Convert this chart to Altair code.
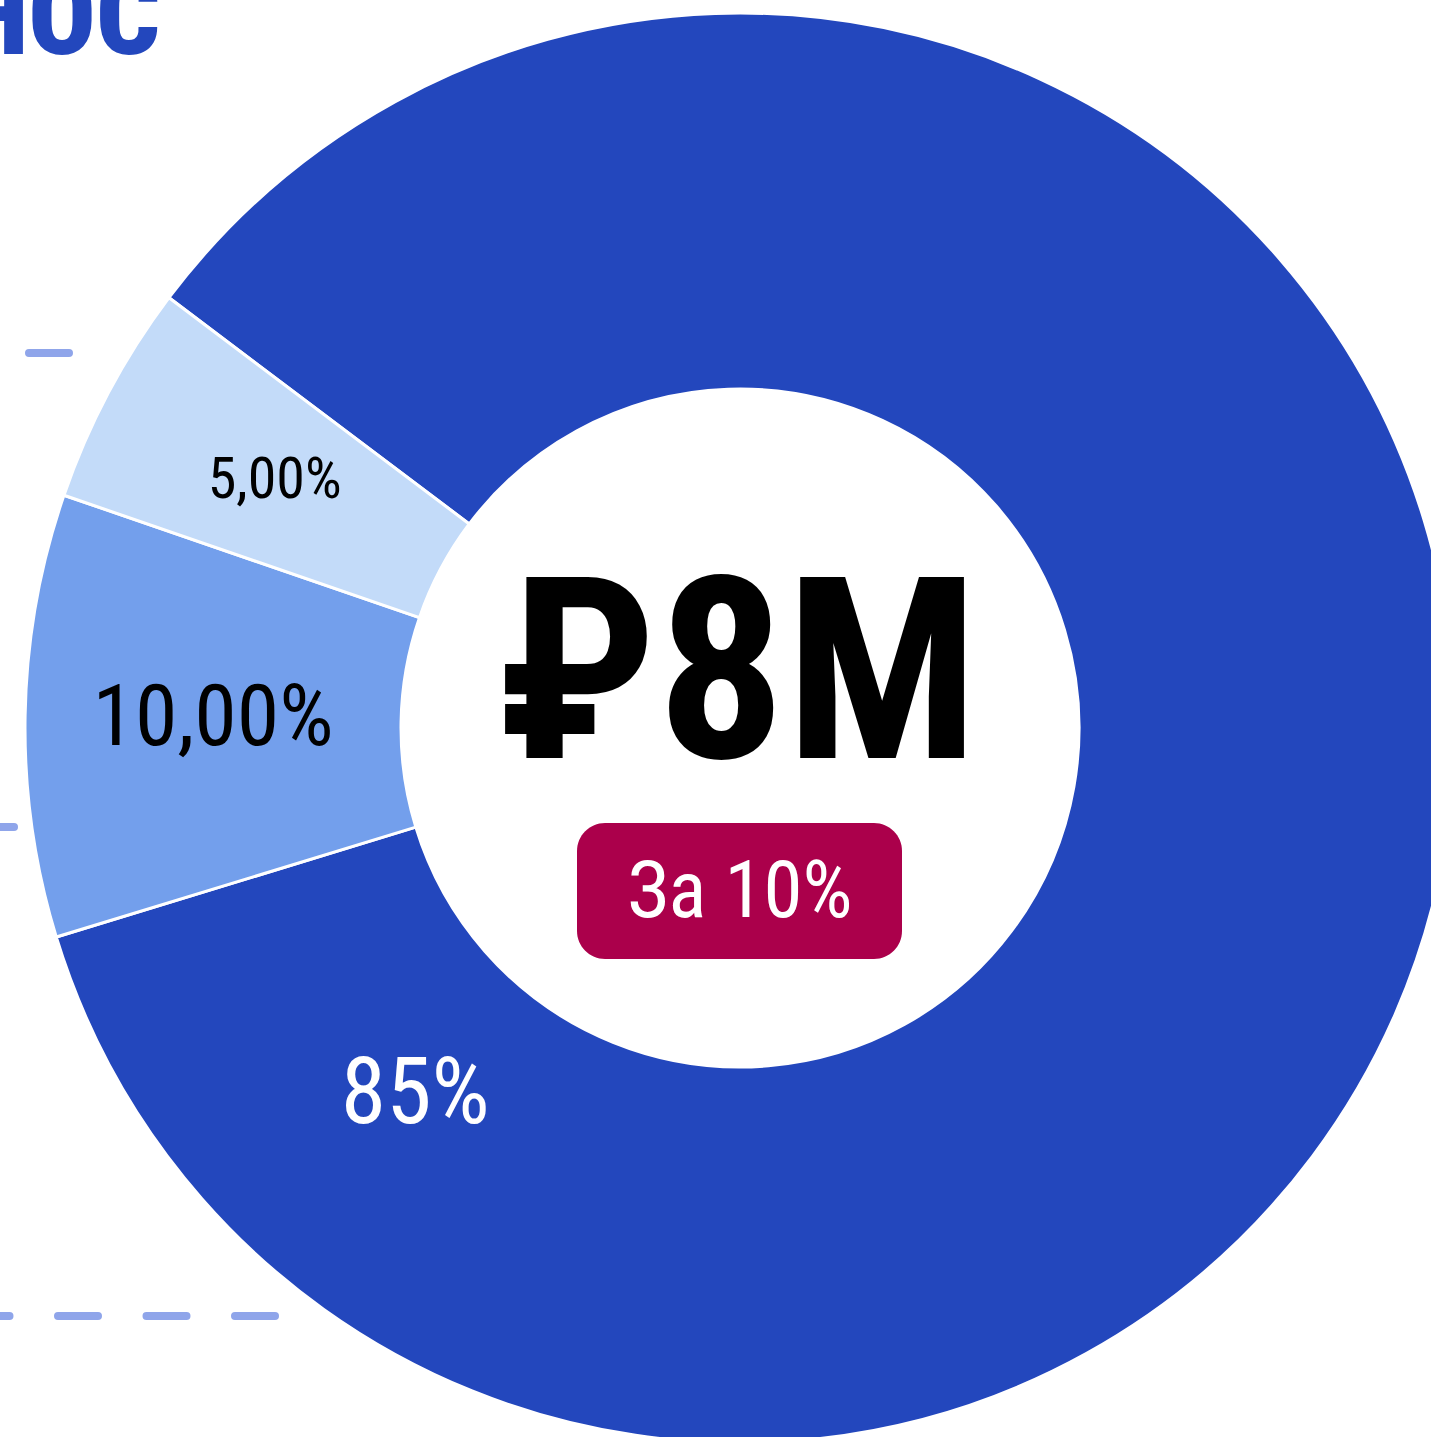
import math
import altair as alt
import pandas as pd

# ---- data ----
labels = ["85%", "10,00%", "5,00%"]
values = [85, 10, 5]
colors = ["#2347BD", "#739FEC", "#C3DBF9"]
label_colors = ["#FFFFFF", "#000000", "#000000"]
center_value = "₽8M"
badge_text = "За 10%"
title_text = "ВЗНОС"

# background dashed grid lines (pixel levels, cropped chart behind the donut)
grid_y = [353, 827, 1316]
grid_x0 = [-59.5, -26, -30.5]
grid_x1 = [100, 40, 290]

# ---- geometry / style ----
W, H = 1431, 1437
CX, CY = 740, 728
R_OUT, R_IN = 715, 339
START_DEG = 307
FONT = "Roboto Condensed, DejaVu Sans Condensed, Liberation Sans Narrow, Roboto"
label_sizes = {"85%": 92, "10,00%": 86, "5,00%": 58}
label_angle_override = {"85%": 221.5}
label_radius_override = {"85%": 490}

total = sum(values)
start = math.radians(START_DEG)
cum = 0
rows = []
for i, (lab, v, c, tc) in enumerate(zip(labels, values, colors, label_colors)):
    mid_deg = START_DEG + 360 * (cum + v / 2) / total
    cum += v
    ang = label_angle_override.get(lab, mid_deg)
    rows.append({
        "label": lab, "value": v, "ord": i, "color": c, "tc": tc,
        "lt": math.radians(ang % 360),
        "lr": label_radius_override.get(lab, (R_OUT + R_IN) / 2),
        "fs": label_sizes[lab],
    })
df = pd.DataFrame(rows)

grid_df = pd.DataFrame({"y": grid_y, "x0": grid_x0, "x1": grid_x1})

grid = alt.Chart(grid_df).mark_rule(
    strokeWidth=8, strokeCap="round", strokeDash=[40, 48.5], color="#8FA5EA"
).encode(
    x=alt.X("x0:Q", scale=None),
    x2="x1:Q",
    y=alt.Y("y:Q", scale=None),
)

title = alt.Chart(pd.DataFrame({"t": [title_text]})).mark_text(
    align="right", baseline="alphabetic", fontSize=112, fontWeight=900,
    font=FONT, color="#2347BD"
).encode(x=alt.value(160), y=alt.value(54), text="t:N")

arcs = alt.Chart(df).mark_arc(
    outerRadius=R_OUT, innerRadius=R_IN, stroke="white", strokeWidth=3
).encode(
    theta=alt.Theta("value:Q", stack=True,
                    scale=alt.Scale(range=[start, start + 2 * math.pi])),
    color=alt.Color("color:N", scale=None),
    order=alt.Order("ord:Q"),
    x=alt.value(CX),
    y=alt.value(CY),
)

slice_labels = alt.Chart(df).mark_text(
    align="center", baseline="middle", font=FONT, fontWeight=400
).encode(
    x=alt.value(CX),
    y=alt.value(CY),
    theta=alt.Theta("lt:Q", scale=None),
    radius=alt.Radius("lr:Q", scale=None),
    text="label:N",
    size=alt.Size("fs:Q", scale=None),
    color=alt.Color("tc:N", scale=None),
)

center = alt.Chart(pd.DataFrame({"t": [center_value]})).mark_text(
    align="center", baseline="alphabetic", fontSize=255, fontWeight=700,
    font=FONT, color="#000000"
).encode(x=alt.value(738), y=alt.value(758), text="t:N")

badge = alt.Chart(pd.DataFrame({"t": [badge_text]})).mark_rect(
    cornerRadius=28, color="#AB004B"
).encode(x=alt.value(577), x2=alt.value(902), y=alt.value(823), y2=alt.value(959))

badge_label = alt.Chart(pd.DataFrame({"t": [badge_text]})).mark_text(
    align="center", baseline="alphabetic", fontSize=79, fontWeight=400,
    font=FONT, color="#FFFFFF"
).encode(x=alt.value(740), y=alt.value(917), text="t:N")

chart = alt.layer(
    grid, title, arcs, slice_labels, center, badge, badge_label
).properties(
    width=W, height=H, padding=0, autosize=alt.AutoSizeParams(type="none"),
    background="white"
).configure_view(stroke=None)

chart.save("out.html", embed_options={"renderer": "svg", "actions": False})
